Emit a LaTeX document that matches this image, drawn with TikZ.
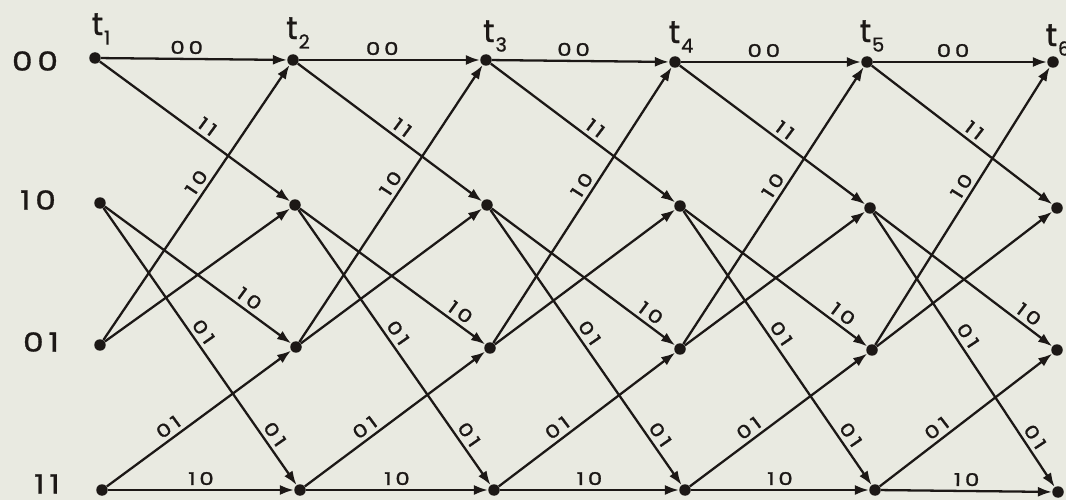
\documentclass[tikz,border=0pt]{standalone}
\usepackage{fontspec}
\setmainfont{Poppins}
\newfontfamily\statefont[LetterSpace=18,FakeBold=1.2,FakeStretch=1.25]{Poppins}
\newfontfamily\edgefont[LetterSpace=22,FakeBold=1.5,FakeStretch=1.3]{Poppins}
\newfontfamily\timefont[FakeBold=1]{Poppins}
\usetikzlibrary{arrows.meta}
\definecolor{bg}{RGB}{233,234,225}
\definecolor{ink}{RGB}{28,24,22}
\newcommand\tsub[1]{t\kern0.5pt\raisebox{-0.55ex}{\fontsize{11}{11}\selectfont #1}}
\tikzset{
  dot/.style={circle,fill=ink,inner sep=0pt,minimum size=2.3mm},
  tedge/.style={draw=ink,line width=1.3pt,-{Latex[length=2.8mm,width=2mm]}},
  lab/.style={font=\edgefont\fontsize{10}{11}\selectfont,text=ink,sloped,above,inner sep=2.2pt},
  slab/.style={font=\statefont\fontsize{15}{16}\selectfont,text=ink,inner sep=0pt},
  tlab/.style={font=\timefont\fontsize{18}{19}\selectfont,text=ink,inner sep=0pt}
}
\begin{document}
\begin{tikzpicture}[x=0.02cm,y=-0.02cm]
\fill[bg] (0,0) rectangle (1066,500);
\useasboundingbox (0,0) rectangle (1066,500);
% trellis nodes
\foreach \k/\xa/\ya/\xb/\yb/\xc/\yc/\xd/\yd in {
  1/95/58/100/203/100/345/102/490,
  2/293/60/295/205/296/347/300/490,
  3/486/60/487/205/490/348/494/490,
  4/675/62/680/206/680/349/685/490,
  5/867/62/870/208/872/350/875/490,
  6/1053/62/1057/208/1057/350/1058/492}{
  \node[dot] (a\k) at (\xa,\ya) {};
  \node[dot] (b\k) at (\xb,\yb) {};
  \node[dot] (c\k) at (\xc,\yc) {};
  \node[dot] (d\k) at (\xd,\yd) {};
}
% state labels
\node[slab] (s00) at (35,61) {00};
\node[slab] (s10) at (38,200) {10};
\node[slab] (s01) at (41,342) {01};
\node[slab] (s11) at (47,484) {11};
% time labels
\node[tlab] (t1) at (101,29) {\tsub{1}};
\node[tlab] (t2) at (298,33) {\tsub{2}};
\node[tlab] (t3) at (495,36) {\tsub{3}};
\node[tlab] (t4) at (681,37) {\tsub{4}};
\node[tlab] (t5) at (872,36) {\tsub{5}};
\node[tlab] (t6) at (1058,40) {\tsub{6}};
% branches
\foreach \k/\j/\p in {1/2/0.74,2/3/0.83,3/4/0.83,4/5/0.83,5/6/0.83}{
  \draw[tedge] (a\k) -- node[lab,pos=0.46]{00} (a\j);
  \draw[tedge] (a\k) -- node[lab,pos=0.53]{11} (b\j);
  \draw[tedge] (b\k) -- node[lab,pos=\p]{10} (c\j);
  \draw[tedge] (b\k) -- node[lab,pos=0.47]{01} node[lab,pos=0.84]{01} (d\j);
  \draw[tedge] (c\k) -- node[lab,pos=0.55]{10} (a\j);
  \draw[tedge] (c\k) -- (b\j);
  \draw[tedge] (d\k) -- node[lab,pos=0.37]{01} (c\j);
  \draw[tedge] (d\k) -- node[lab,pos=0.5]{10} (d\j);
}
\end{tikzpicture}
\end{document}
